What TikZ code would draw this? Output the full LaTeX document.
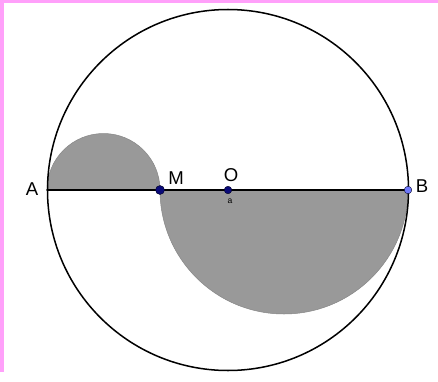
\documentclass[tikz,border=0pt]{standalone}
\usepackage{fontspec}
\setmainfont{Liberation Sans}
\definecolor{shade}{RGB}{153,153,153}
\definecolor{shadeline}{RGB}{135,135,135}
\definecolor{navy}{RGB}{10,10,120}
\definecolor{lightpt}{RGB}{110,120,250}
\definecolor{frame}{RGB}{255,160,250}
\tikzset{
  pt/.style={fill=navy, draw=black!70!navy, line width=0.4pt},
  lbl/.style={font=\fontsize{18.5}{20}\selectfont, inner sep=0pt}
}
\begin{document}
\begin{tikzpicture}[x=0.35mm, y=-0.35mm, line join=round, line cap=round]
			\def \R{180.5}
			\def \r{56.5}
			\def \rr{124}
			\useasboundingbox (0,0) rectangle (438,381);
			\fill[frame] (0,0) rectangle (438,3.5);
			\fill[frame] (0,0) rectangle (3.5,372);
			\coordinate (O) at (228,190);
			\coordinate (A) at (47,190);
			\coordinate (B) at (408,190);
			\coordinate (M) at (160,190);
			% shaded half discs (y axis points down)
			\filldraw[fill=shade, draw=shadeline, line width=0.5pt] (A) arc[start angle=180, end angle=360, radius=\r] -- cycle;
			\filldraw[fill=shade, draw=shadeline, line width=0.5pt] (M) arc[start angle=180, end angle=0, radius=\rr] -- cycle;
			\draw[line width=1.5pt] (A) -- (B);
			\draw[line width=1.5pt] (O) circle (\R);
			\filldraw[pt] (M) circle (4.5);
			\filldraw[pt] (O) circle (3.8);
			\filldraw[fill=lightpt, draw=black!70!navy, line width=0.4pt] (B) circle (3.8);
			\node[lbl] (la) at (32,189) {A};
			\node[lbl] (lm) at (176,178) {M};
			\node[lbl] (lo) at (231,175) {O};
			\node[lbl] (lb) at (422,186) {B};
			\node[font=\fontsize{8.5}{9}\selectfont, inner sep=0pt] (ls) at (230,201) {a};
		\end{tikzpicture}
\end{document}
